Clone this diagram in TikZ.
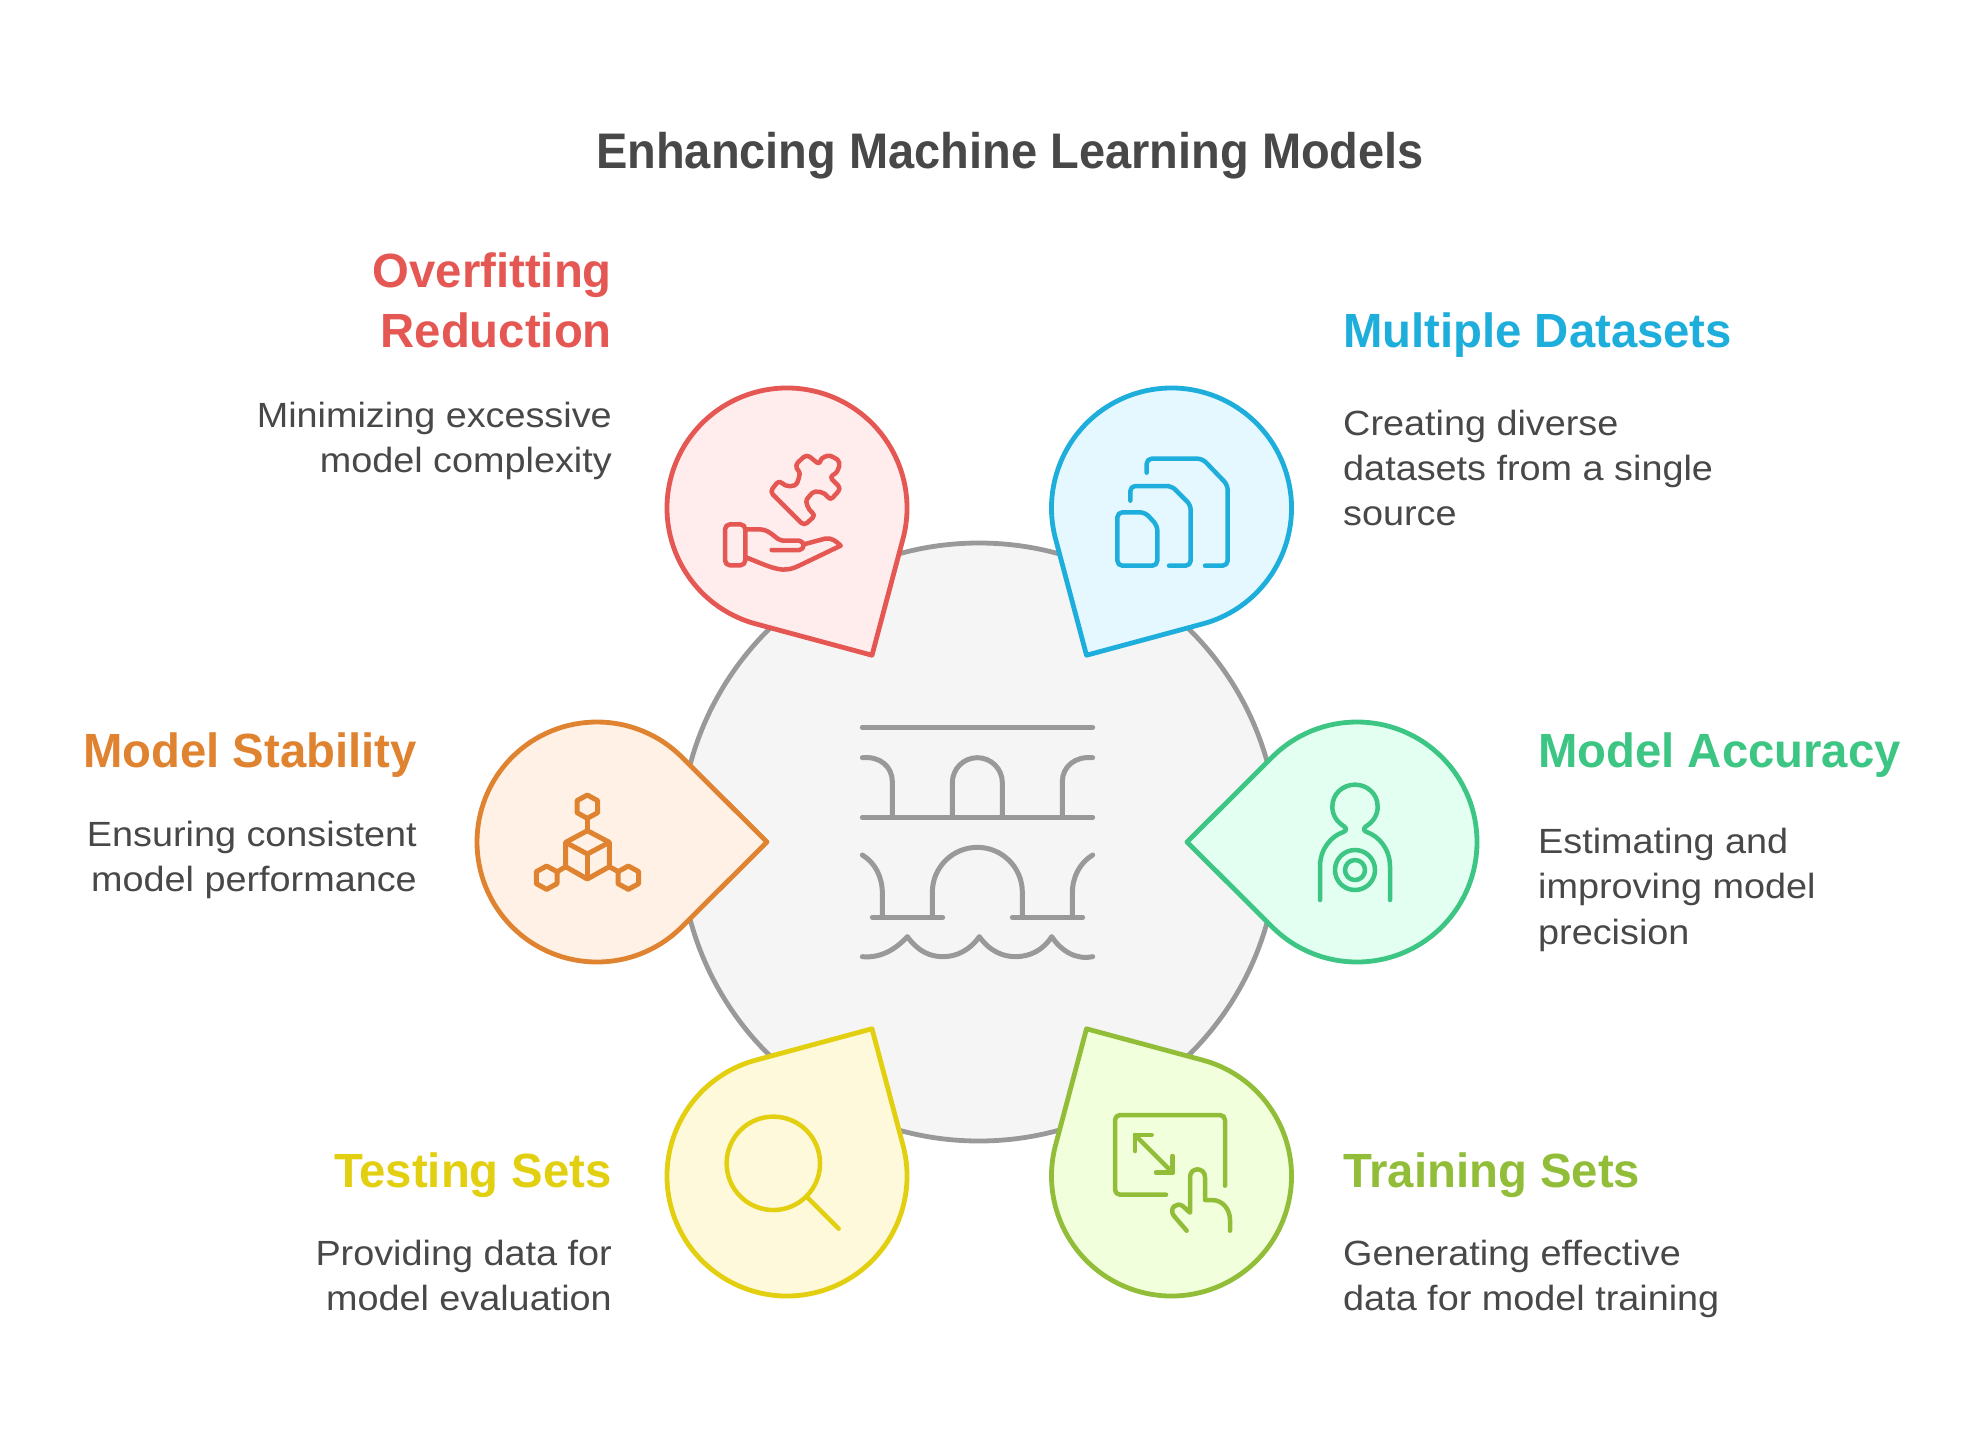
\documentclass[tikz,border=0pt]{standalone}
\usepackage{fontspec}
\setmainfont[FakeStretch=1.08]{Liberation Sans}
\newfontfamily\headfont[FakeStretch=0.985]{Liberation Sans}
\newfontfamily\titlefont[FakeStretch=0.94]{Liberation Sans}
\definecolor{ink}{HTML}{484848}
\definecolor{ring}{HTML}{999999}
\definecolor{hub}{HTML}{F5F5F5}
\definecolor{redS}{HTML}{E55753}\definecolor{redF}{HTML}{FFECEC}
\definecolor{bluS}{HTML}{1EAEDB}\definecolor{bluF}{HTML}{E5F8FF}
\definecolor{grnS}{HTML}{3CC583}\definecolor{grnF}{HTML}{E3FFF1}
\definecolor{orgS}{HTML}{E08330}\definecolor{orgF}{HTML}{FFF1E5}
\definecolor{yelS}{HTML}{E2CF0F}\definecolor{yelF}{HTML}{FFF9DB}
\definecolor{limS}{HTML}{92BD39}\definecolor{limF}{HTML}{F2FFDC}
\tikzset{
  titletext/.style={font=\titlefont\fontsize{50}{50}\selectfont\bfseries,text=ink,anchor=base},
  headL/.style={font=\headfont\fontsize{48}{48}\selectfont\bfseries,anchor=base west,inner sep=0pt},
  headR/.style={font=\headfont\fontsize{48}{48}\selectfont\bfseries,anchor=base east,inner sep=0pt},
  bodyL/.style={font=\fontsize{35}{35}\selectfont,text=ink,anchor=base west,inner sep=0pt},
  bodyR/.style={font=\fontsize{35}{35}\selectfont,text=ink,anchor=base east,inner sep=0pt},
  icon/.style={line width=4.5pt,line cap=round,line join=round},
  gray icon/.style={line width=5pt,draw=ring,line cap=round,line join=round},
  zoomed/.style={x=0.33333pt,y=-0.33333pt}
}
\newcommand{\drop}[5]{%
  \begin{scope}[shift={(#1,#2)},rotate=#3]
    \draw[line width=4.8pt,draw=#4,fill=#5,line join=round]
      (45:120pt) arc[start angle=45,end angle=315,radius=120pt] -- (170pt,0pt) -- cycle;
  \end{scope}}
\begin{document}
\begin{tikzpicture}[x=1pt,y=-1pt]
\path[use as bounding box,fill=white] (0,0) rectangle (1985,1445);
% hub
\draw[line width=4.8pt,draw=ring,fill=hub] (979,842) circle[radius=299pt];
% drops
\drop{787}{508}{-60}{redS}{redF}
\drop{1171.5}{508}{-120}{bluS}{bluF}
\drop{597}{842}{0}{orgS}{orgF}
\drop{1357}{842}{180}{grnS}{grnF}
\drop{787}{1176}{60}{yelS}{yelF}
\drop{1171.5}{1176}{120}{limS}{limF}
% hub icon
\begin{scope}[shift={(840,700)},zoomed,gray icon]
  \draw (67,82) -- (758,82);
  \draw (67,173) .. controls (120,168) and (157,200) .. (157,245) -- (157,352);
  \draw (337,352) -- (337,248) arc[start angle=180,end angle=360,radius=75] -- (487,352);
  \draw (758,173) .. controls (705,168) and (667,200) .. (667,245) -- (667,352);
  \draw (67,352) -- (758,352);
  \draw (67,465) .. controls (105,488) and (127,530) .. (127,580) -- (127,652);
  \draw (277,652) -- (277,577) arc[start angle=180,end angle=360,radius=135] -- (547,652);
  \draw (758,465) .. controls (720,488) and (697,530) .. (697,580) -- (697,652);
  \draw (97,652) -- (308,652);
  \draw (517,652) -- (728,652);
  \draw (67,770) .. controls (120,775) and (165,750) .. (202,710)
     .. controls (235,755) and (270,770) .. (310,770)
     .. controls (350,770) and (390,750) .. (418,710)
     .. controls (450,755) and (490,770) .. (527,770)
     .. controls (570,770) and (610,750) .. (635,710)
     .. controls (665,755) and (710,780) .. (758,770);
\end{scope}
% red icon
\begin{scope}[shift={(650,370)},zoomed,icon,draw=redS]
  \draw[rounded corners=4pt] (360,365) -- (388,330)
     .. controls (405,350) and (435,355) .. (447,325)
     .. controls (450,305) and (440,295) .. (435,285)
     -- (470,253) -- (510,285)
     .. controls (512,262) and (535,255) .. (552,262)
     .. controls (572,275) and (570,305) .. (538,320)
     -- (573,355) -- (540,392)
     .. controls (525,365) and (495,360) .. (478,378)
     .. controls (465,395) and (475,420) .. (497,435)
     -- (462,467) -- cycle;
  \draw[rounded corners=5pt] (225,463) rectangle (286,586);
  \draw (286,478) -- (330,478) .. controls (365,480) and (375,510) .. (400,512)
     -- (448,512) .. controls (465,515) and (465,538) .. (448,540) -- (365,540);
  \draw (465,522) -- (525,506) .. controls (545,502) and (560,515) .. (572,527)
     -- (445,588) .. controls (410,605) and (385,600) .. (345,585) -- (288,562);
\end{scope}
% blue icon
\begin{scope}[shift={(1040,370)},zoomed,icon,draw=bluS]
  \draw[rounded corners=5pt] (232,427) -- (315,427) -- (352,467) -- (352,587) -- (232,587) -- cycle;
  \draw[rounded corners=5pt] (271,392) -- (271,348) -- (395,348) -- (452,405) -- (452,587) -- (387,587);
  \draw[rounded corners=5pt] (320,308) -- (320,266) -- (487,266) -- (563,345) -- (563,587) -- (495,587);
\end{scope}
% orange icon
\begin{scope}[shift={(470,710)},zoomed,icon,draw=orgS,line cap=butt,line width=5pt]
  \foreach \hx/\hy in {352/290,230/503,475/503}{
    \draw (\hx,\hy-35) -- (\hx+31,\hy-18) -- (\hx+31,\hy+18) -- (\hx,\hy+35) -- (\hx-31,\hy+18) -- (\hx-31,\hy-18) -- cycle;
  }
  \draw (352,362) -- (418,397) -- (418,470) -- (352,507) -- (287,470) -- (287,397) -- cycle;
  \draw (287,397) -- (352,432) -- (418,397);
  \draw (352,432) -- (352,507);
  \draw (352,325) -- (352,362);
  \draw (262,485) -- (287,470);
  \draw (418,470) -- (445,485);
\end{scope}
% green icon
\begin{scope}[shift={(1180,710)},zoomed,icon,draw=grnS]
  \draw (420,570) -- (420,470) .. controls (420,415) and (455,378) .. (490,366)
     .. controls (500,362) and (500,355) .. (492,349)
     .. controls (470,335) and (457,315) .. (457,290)
     .. controls (457,250) and (490,224) .. (525,224)
     .. controls (560,224) and (593,250) .. (593,290)
     .. controls (593,315) and (580,335) .. (558,349)
     .. controls (550,355) and (550,362) .. (560,366)
     .. controls (595,378) and (630,415) .. (630,470) -- (630,570);
  \draw (525,480) circle[radius=20pt];
  \draw (525,480) circle[radius=10pt];
\end{scope}
% lime icon
\begin{scope}[shift={(1040,1020)},zoomed,icon,draw=limS]
  \draw[rounded corners=5pt] (378,524) -- (225,524) -- (225,285) -- (555,285) -- (555,497);
  \draw (285,345) -- (398,458);
  \draw (285,393) -- (285,345) -- (335,345);
  \draw (398,408) -- (398,458) -- (348,458);
  \draw (440,632) -- (402,588) .. controls (385,565) and (410,545) .. (428,558) -- (450,578)
     -- (450,472) .. controls (450,440) and (495,440) .. (495,472) -- (495,540) -- (515,540)
     .. controls (550,540) and (570,570) .. (570,600) -- (570,632);
\end{scope}
% yellow icon
\begin{scope}[shift={(650,1020)},zoomed,icon,draw=yelS]
  \draw (370,430) circle[radius=46.7pt];
  \draw (470,530) -- (566,626);
\end{scope}
% texts
\node[titletext] (title) at (1010,168) {Enhancing Machine Learning Models};
\node[headR,text=redS] (h1a) at (612,287) {Overfitting};
\node[headR,text=redS] (h1b) at (612,347) {Reduction};
\node[bodyR] (b1a) at (612,427) {Minimizing excessive};
\node[bodyR] (b1b) at (612,472) {model complexity};
\node[headL,text=bluS] (h2) at (1343,347) {Multiple Datasets};
\node[bodyL] (b2a) at (1343,435) {Creating diverse};
\node[bodyL] (b2b) at (1343,480) {datasets from a single};
\node[bodyL] (b2c) at (1343,525) {source};
\node[headR,text=orgS] (h3) at (417,767) {Model Stability};
\node[bodyR] (b3a) at (417,846) {Ensuring consistent};
\node[bodyR] (b3b) at (417,891) {model performance};
\node[headL,text=grnS] (h4) at (1538,767) {Model Accuracy};
\node[bodyL] (b4a) at (1538,853) {Estimating and};
\node[bodyL] (b4b) at (1538,898) {improving model};
\node[bodyL] (b4c) at (1538,944) {precision};
\node[headR,text=yelS] (h5) at (612,1187) {Testing Sets};
\node[bodyR] (b5a) at (612,1265) {Providing data for};
\node[bodyR] (b5b) at (612,1310) {model evaluation};
\node[headL,text=limS] (h6) at (1343,1187) {Training Sets};
\node[bodyL] (b6a) at (1343,1265) {Generating effective};
\node[bodyL] (b6b) at (1343,1310) {data for model training};
\end{tikzpicture}
\end{document}
